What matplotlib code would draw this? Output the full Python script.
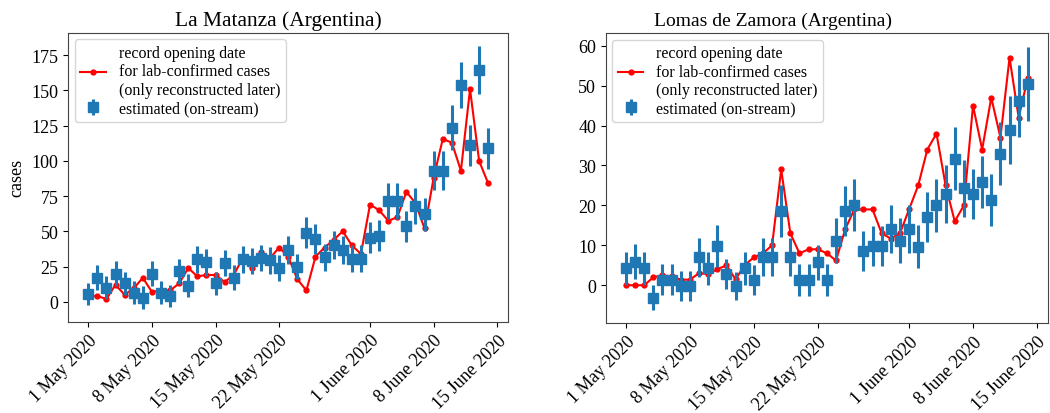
import numpy as np
import pandas as pd
import matplotlib
matplotlib.use("Agg")
import matplotlib.pyplot as plt

# daily series, 1 May 2020 .. 14 June 2020
dates = pd.date_range("2020-05-01", "2020-06-14", freq="D")

tick_dates = pd.to_datetime(["2020-05-01", "2020-05-08", "2020-05-15", "2020-05-22",
                             "2020-06-01", "2020-06-08", "2020-06-15"])
tick_labels = ["1 May 2020", "8 May 2020", "15 May 2020", "22 May 2020",
               "1 June 2020", "8 June 2020", "15 June 2020"]

# La Matanza
lm_record = [4, 4, 2, 12, 5, 9.5, 17, 7, 8, 8, 13, 24, 18, 19, 19,
             14, 19, 31, 24, 35.5, 31, 38.5, 32, 16, 8, 32, 38.5, 44, 50,
             40, 34, 69, 65, 57.5, 60, 78, 70, 52, 88, 115.5, 113, 93, 151, 100, 84]
lm_est = [5.5, 17, 10, 20, 13, 6.5, 3, 20, 6.5, 4, 21.5, 11.5, 30, 28, 13,
          27.5, 17, 30, 29, 31, 29.5, 24, 37, 25, 49, 44.5, 31.5, 40, 37,
          30.5, 30.5, 45.5, 47, 71.5, 71.5, 53.5, 68, 62, 93, 93, 123.5, 154, 111, 164.5, 109]
lm_err = [8, 9, 8, 9, 8, 8, 8, 9, 8, 8, 9, 8, 9.5, 9.5, 8,
          9.5, 9, 9.5, 9.5, 9.5, 9.5, 9, 10, 9, 11, 10.5, 9.5, 10, 10,
          9.5, 9.5, 11, 11, 13, 13, 11, 12.5, 12, 14, 14, 16, 16.5, 14.5, 17, 14.5]

# Lomas de Zamora
lz_record = [0, 0, 0, 2, 2.5, 2.2, 1.4, 1.4, 3, 2.8, 4, 5, 1.5, 5, 7,
             8, 10, 29, 13, 8, 9, 9, 8, 6.2, 14, 19, 19, 19, 13,
             11.7, 13, 19, 25, 34, 38, 25, 16, 20, 45, 34, 47, 37, 57, 42, 52]
lz_est = [4.2, 5.9, 4.2, -3.1, 1.4, 1.4, -0.2, -0.2, 7, 4.2, 9.9, 2.8, -0.2, 4.2, 1.3,
          7, 7, 18.6, 7, 1.3, 1.3, 5.7, 1.3, 11.2, 18.6, 20, 8.5, 9.9, 9.9,
          14.1, 11.2, 14.1, 9.7, 17.1, 20, 22.8, 31.7, 24.3, 22.8, 25.8, 21.4, 33, 38.9, 46.2, 50.5]
lz_err = [4.2, 4.4, 4.2, 3.1, 3.8, 3.8, 3.8, 3.8, 4.9, 4.2, 5.3, 3.8, 3.5, 4.2, 3.8,
          4.8, 4.8, 6.5, 4.8, 4.1, 4.1, 4.5, 4.1, 5.7, 6.3, 6.5, 5, 5, 5,
          6.1, 5.7, 6, 5.3, 6.3, 6.7, 7.2, 7.9, 7.2, 6.3, 6.5, 6.5, 7.9, 8.5, 9, 9.3]

plt.rcParams["font.family"] = ["Liberation Serif", "DejaVu Serif"]
plt.rcParams["font.size"] = 13

fig = plt.figure(figsize=(10.5, 4.14), dpi=100)
ax1 = fig.add_axes([0.065, 0.22, 0.419, 0.698])
ax2 = fig.add_axes([0.577, 0.217, 0.421, 0.70])

# title size / horizontal placement as seen in the original
panels = [(ax1, "La Matanza (Argentina)", 15.5, 0.477, lm_record, lm_est, lm_err),
          (ax2, "Lomas de Zamora (Argentina)", 14, 0.378, lz_record, lz_est, lz_err)]

for ax, title, tsize, tx, rec, est, err in panels:
    ax.plot(dates, rec, "-o", color="red", lw=1.5, ms=3.5,
            label="record opening date\nfor lab-confirmed cases\n(only reconstructed later)")
    ax.errorbar(dates, est, yerr=err, fmt="s", color="#1f77b4", ms=7,
                elinewidth=2.2, capsize=0, label="estimated (on-stream)")
    ax.set_title(title, fontsize=tsize, x=tx)
    ax.set_xticks(tick_dates)
    ax.set_xticklabels(tick_labels, rotation=45, ha="right", rotation_mode="anchor")
    ax.legend(loc="upper left", fontsize=11.5, handlelength=1.6, borderpad=0.35,
              labelspacing=0.15, handletextpad=0.8, borderaxespad=0.4)
    for s in ax.spines.values():
        s.set_color("#444444")

ax1.set_ylabel("cases")
ax1.set_yticks([0, 25, 50, 75, 100, 125, 150, 175])
ax2.set_yticks([0, 10, 20, 30, 40, 50, 60])

fig.savefig("out.png", dpi=100)
